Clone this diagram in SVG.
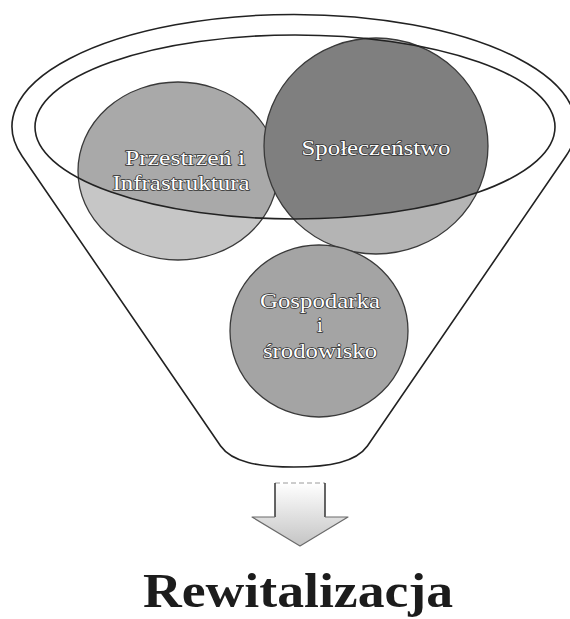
<svg xmlns="http://www.w3.org/2000/svg" width="570" height="619" viewBox="0 0 570 619">
  <style>
    .outline { fill: none; stroke: #222; stroke-width: 1.6; }
    .ring { fill: none; stroke: #3a3a3a; stroke-width: 1.3; }
    .lbl { font-family: "Liberation Serif", "DejaVu Serif", serif; font-size: 21px; fill: #ffffff; stroke: #2e2e2e; stroke-width: 1.4px; paint-order: stroke; stroke-linejoin: round; text-anchor: middle; }
    .title { font-family: "Liberation Serif", "DejaVu Serif", serif; font-size: 48px; font-weight: bold; fill: #1c1c1c; text-anchor: middle; }
  </style>
  <defs>
    <clipPath id="mouth">
      <ellipse cx="295" cy="127" rx="260" ry="92"/>
    </clipPath>
    <linearGradient id="arrowFill" x1="0" y1="0" x2="0" y2="1">
      <stop offset="0" stop-color="#ffffff"/>
      <stop offset="1" stop-color="#c4c4c4"/>
    </linearGradient>
  </defs>
  <rect width="570" height="619" fill="#ffffff"/>

  <g id="funnel">
    <path class="outline" d="M 22,156 L 220.6,446 C 232,462 258,467 294,467 C 330,467 356,462 367.4,446 L 566,156 A 282 112 0 1 0 22,156 Z"/>
  </g>

  <g id="node-przestrzen">
    <ellipse cx="178" cy="171" rx="100" ry="89" fill="#c6c6c6"/>
    <ellipse cx="178" cy="171" rx="100" ry="89" fill="#a9a9a9" clip-path="url(#mouth)"/>
    <ellipse class="ring" cx="178" cy="171" rx="100" ry="89"/>
    <text class="lbl" x="185" y="165" textLength="120" lengthAdjust="spacingAndGlyphs">Przestrzeń i</text>
    <text class="lbl" x="181" y="190" textLength="137" lengthAdjust="spacingAndGlyphs">Infrastruktura</text>
  </g>

  <g id="node-spoleczenstwo">
    <ellipse cx="376" cy="146" rx="112" ry="108" fill="#b4b4b4"/>
    <ellipse cx="376" cy="146" rx="112" ry="108" fill="#7f7f7f" clip-path="url(#mouth)"/>
    <ellipse class="ring" cx="376" cy="146" rx="112" ry="108"/>
    <text class="lbl" x="376" y="155" textLength="149" lengthAdjust="spacingAndGlyphs">Społeczeństwo</text>
  </g>

  <g id="mouth-rim">
    <ellipse class="outline" cx="295" cy="127" rx="260" ry="92"/>
  </g>

  <g id="node-gospodarka">
    <ellipse cx="319" cy="331" rx="89" ry="86" fill="#a4a4a4"/>
    <ellipse class="ring" cx="319" cy="331" rx="89" ry="86"/>
    <text class="lbl" x="320" y="308" textLength="120" lengthAdjust="spacingAndGlyphs">Gospodarka</text>
    <text class="lbl" x="320" y="332">i</text>
    <text class="lbl" x="320" y="358" textLength="114" lengthAdjust="spacingAndGlyphs">środowisko</text>
  </g>

  <g id="connectors">
    <polygon points="275,483 325,483 325,517 348,517 300,546 252,517 275,517" fill="url(#arrowFill)"/>
    <line x1="275" y1="483" x2="325" y2="483" stroke="#9a9a9a" stroke-width="1" stroke-dasharray="5,3"/>
    <line x1="275" y1="483" x2="275" y2="517" stroke="#333" stroke-width="1.5"/>
    <line x1="325" y1="483" x2="325" y2="517" stroke="#333" stroke-width="1.5"/>
    <polyline points="275,517 252,517 300,546 348,517 325,517" fill="none" stroke="#6a6a6a" stroke-width="1.2" stroke-linejoin="round"/>
  </g>

  <g id="node-rewitalizacja">
    <text class="title" x="298" y="607" textLength="310" lengthAdjust="spacingAndGlyphs">Rewitalizacja</text>
  </g>
</svg>
